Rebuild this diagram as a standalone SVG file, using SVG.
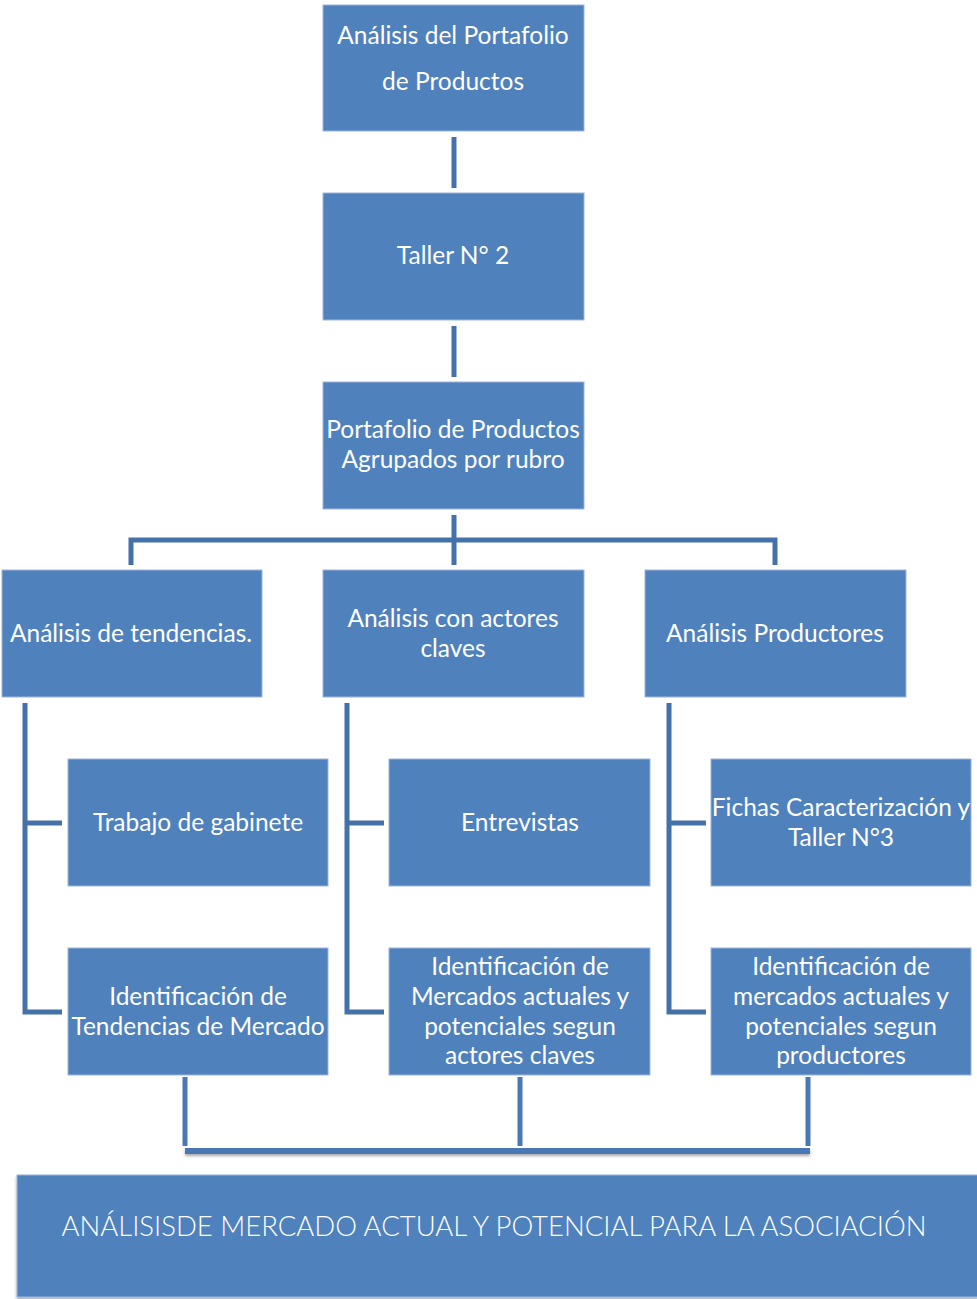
<svg xmlns="http://www.w3.org/2000/svg" width="977" height="1299" viewBox="0 0 977 1299">
  <style>
    .box { fill: #4F81BD; stroke: #9DB6DA; stroke-width: 1; }
    .lbl { font-family: Lato, "Noto Sans", "Liberation Sans", sans-serif; font-size: 24.5px; fill: #FFFFFF; text-anchor: middle; }
    .big { font-family: "Liberation Sans Narrow", Lato, "Liberation Sans", sans-serif; font-size: 27px; fill: #FFFFFF; text-anchor: middle; font-weight: 300; }
    .wire { fill: none; stroke: #4471AA; stroke-width: 5; stroke-linecap: butt; stroke-linejoin: miter; }
    .wire-b { fill: none; stroke: #4A78B4; stroke-width: 5; }
  </style>
  <defs>
    <filter id="shadow" filterUnits="userSpaceOnUse" x="0" y="1100" width="977" height="199">
      <feGaussianBlur in="SourceAlpha" stdDeviation="1.5"/>
      <feOffset dx="0" dy="2"/>
      <feComponentTransfer><feFuncA type="linear" slope="0.35"/></feComponentTransfer>
      <feMerge><feMergeNode/><feMergeNode in="SourceGraphic"/></feMerge>
    </filter>
  </defs>
  <rect width="977" height="1299" fill="#FFFFFF"/>

  <!-- connectors -->
  <g id="connectors">
    <line class="wire" x1="454" y1="137" x2="454" y2="188"/>
    <line class="wire" x1="454" y1="326" x2="454" y2="377"/>
    <line class="wire" x1="454" y1="515" x2="454" y2="565"/>
    <polyline class="wire" points="131,565 131,540 775,540 775,565"/>
    <polyline class="wire" points="25,703 25,1012 62,1012"/>
    <line class="wire" x1="25" y1="823" x2="62" y2="823"/>
    <polyline class="wire" points="347,703 347,1012 384,1012"/>
    <line class="wire" x1="347" y1="823" x2="384" y2="823"/>
    <polyline class="wire" points="669,703 669,1012 706,1012"/>
    <line class="wire" x1="669" y1="823" x2="706" y2="823"/>
    <line class="wire-b" x1="185" y1="1077" x2="185" y2="1146"/>
    <line class="wire-b" x1="520" y1="1077" x2="520" y2="1146"/>
    <line class="wire-b" x1="808" y1="1077" x2="808" y2="1146"/>
    <rect x="185" y="1148" width="625" height="6" fill="#4A78B4" filter="url(#shadow)"/>
  </g>

  <g id="n-portafolio">
    <rect class="box" x="323" y="5" width="261" height="126"/>
    <text class="lbl" x="453" y="44">Análisis del Portafolio</text>
    <text class="lbl" x="453" y="90">de Productos</text>
  </g>
  <g id="n-taller2">
    <rect class="box" x="323" y="193" width="261" height="127"/>
    <text class="lbl" x="453" y="264">Taller N° 2</text>
  </g>
  <g id="n-rubro">
    <rect class="box" x="323" y="382" width="261" height="127"/>
    <text class="lbl" x="453" y="438">Portafolio de Productos</text>
    <text class="lbl" x="453" y="468">Agrupados por rubro</text>
  </g>

  <g id="n-tendencias">
    <rect class="box" x="2" y="570" width="260" height="127"/>
    <text class="lbl" x="131" y="642">Análisis de tendencias.</text>
  </g>
  <g id="n-actores">
    <rect class="box" x="323" y="570" width="261" height="127"/>
    <text class="lbl" x="453" y="627">Análisis con actores</text>
    <text class="lbl" x="453" y="657">claves</text>
  </g>
  <g id="n-productores">
    <rect class="box" x="645" y="570" width="261" height="127"/>
    <text class="lbl" x="775" y="642">Análisis Productores</text>
  </g>

  <g id="n-gabinete">
    <rect class="box" x="68" y="759" width="260" height="127"/>
    <text class="lbl" x="198" y="831">Trabajo de gabinete</text>
  </g>
  <g id="n-entrevistas">
    <rect class="box" x="389" y="759" width="261" height="127"/>
    <text class="lbl" x="520" y="831">Entrevistas</text>
  </g>
  <g id="n-fichas">
    <rect class="box" x="711" y="759" width="260" height="127"/>
    <text class="lbl" x="841" y="816">Fichas Caracterización y</text>
    <text class="lbl" x="841" y="846">Taller N°3</text>
  </g>

  <g id="n-id-tendencias">
    <rect class="box" x="68" y="948" width="260" height="127"/>
    <text class="lbl" x="198" y="1005">Identificación de</text>
    <text class="lbl" x="198" y="1035">Tendencias de Mercado</text>
  </g>
  <g id="n-id-actores">
    <rect class="box" x="389" y="948" width="261" height="127"/>
    <text class="lbl" x="520" y="975">Identificación de</text>
    <text class="lbl" x="520" y="1005">Mercados actuales y</text>
    <text class="lbl" x="520" y="1035">potenciales segun</text>
    <text class="lbl" x="520" y="1064">actores claves</text>
  </g>
  <g id="n-id-productores">
    <rect class="box" x="711" y="948" width="260" height="127"/>
    <text class="lbl" x="841" y="975">Identificación de</text>
    <text class="lbl" x="841" y="1005">mercados actuales y</text>
    <text class="lbl" x="841" y="1035">potenciales segun</text>
    <text class="lbl" x="841" y="1064">productores</text>
  </g>

  <g id="n-mercado">
    <rect class="box" x="17" y="1175" width="962" height="122" filter="url(#shadow)"/>
    <text class="big" x="494" y="1236" textLength="865" lengthAdjust="spacingAndGlyphs">ANÁLISISDE MERCADO ACTUAL Y POTENCIAL PARA LA ASOCIACIÓN</text>
  </g>
</svg>
